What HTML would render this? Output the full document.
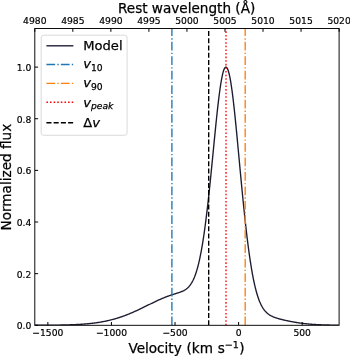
<!DOCTYPE html>
<html lang="en"><head><meta charset="utf-8"><title>Line profile</title>
<style>html,body{margin:0;padding:0;background:#fff;}svg{display:block;will-change:transform;}text{font-family:'DejaVu Sans','Liberation Sans',sans-serif;fill:#000;}.it{font-style:oblique;}.ws{word-spacing:0.5px;}</style></head><body>
<svg width="350" height="356" viewBox="0 0 350 356">
<rect x="0" y="0" width="350" height="356" fill="#fff"/>
<defs><clipPath id="ax"><rect x="34.8" y="28.5" width="304.3" height="296.8"/></clipPath></defs>
<g clip-path="url(#ax)" fill="none">
<path d="M34.80,325.26 L35.30,325.26 L35.80,325.26 L36.30,325.26 L36.80,325.25 L37.30,325.25 L37.80,325.25 L38.30,325.25 L38.80,325.25 L39.30,325.25 L39.80,325.24 L40.30,325.24 L40.80,325.24 L41.30,325.24 L41.80,325.24 L42.30,325.23 L42.80,325.23 L43.30,325.23 L43.80,325.23 L44.30,325.22 L44.80,325.22 L45.30,325.22 L45.80,325.22 L46.30,325.21 L46.80,325.21 L47.30,325.21 L47.80,325.20 L48.30,325.20 L48.80,325.19 L49.30,325.19 L49.80,325.19 L50.30,325.18 L50.80,325.18 L51.30,325.17 L51.80,325.17 L52.30,325.16 L52.80,325.16 L53.30,325.15 L53.80,325.15 L54.30,325.14 L54.80,325.14 L55.30,325.13 L55.80,325.12 L56.30,325.12 L56.80,325.11 L57.30,325.10 L57.80,325.10 L58.30,325.09 L58.80,325.08 L59.30,325.07 L59.80,325.06 L60.30,325.06 L60.80,325.05 L61.30,325.04 L61.80,325.03 L62.30,325.02 L62.80,325.01 L63.30,325.00 L63.80,324.99 L64.30,324.97 L64.80,324.96 L65.30,324.95 L65.80,324.94 L66.30,324.92 L66.80,324.91 L67.30,324.90 L67.80,324.88 L68.30,324.87 L68.80,324.85 L69.30,324.84 L69.80,324.82 L70.30,324.80 L70.80,324.79 L71.30,324.77 L71.80,324.75 L72.30,324.73 L72.80,324.71 L73.30,324.69 L73.80,324.67 L74.30,324.65 L74.80,324.62 L75.30,324.60 L75.80,324.58 L76.30,324.55 L76.80,324.53 L77.30,324.50 L77.80,324.47 L78.30,324.45 L78.80,324.42 L79.30,324.39 L79.80,324.36 L80.30,324.33 L80.80,324.30 L81.30,324.26 L81.80,324.23 L82.30,324.20 L82.80,324.16 L83.30,324.12 L83.80,324.09 L84.30,324.05 L84.80,324.01 L85.30,323.97 L85.80,323.93 L86.30,323.88 L86.80,323.84 L87.30,323.79 L87.80,323.75 L88.30,323.70 L88.80,323.65 L89.30,323.60 L89.80,323.55 L90.30,323.50 L90.80,323.44 L91.30,323.39 L91.80,323.33 L92.30,323.27 L92.80,323.22 L93.30,323.15 L93.80,323.09 L94.30,323.03 L94.80,322.96 L95.30,322.90 L95.80,322.83 L96.30,322.76 L96.80,322.69 L97.30,322.61 L97.80,322.54 L98.30,322.46 L98.80,322.39 L99.30,322.31 L99.80,322.22 L100.30,322.14 L100.80,322.06 L101.30,321.97 L101.80,321.88 L102.30,321.79 L102.80,321.70 L103.30,321.61 L103.80,321.51 L104.30,321.41 L104.80,321.31 L105.30,321.21 L105.80,321.11 L106.30,321.00 L106.80,320.89 L107.30,320.78 L107.80,320.67 L108.30,320.56 L108.80,320.44 L109.30,320.32 L109.80,320.20 L110.30,320.08 L110.80,319.96 L111.30,319.83 L111.80,319.70 L112.30,319.57 L112.80,319.44 L113.30,319.30 L113.80,319.16 L114.30,319.03 L114.80,318.88 L115.30,318.74 L115.80,318.59 L116.30,318.44 L116.80,318.29 L117.30,318.14 L117.80,317.99 L118.30,317.83 L118.80,317.67 L119.30,317.51 L119.80,317.34 L120.30,317.18 L120.80,317.01 L121.30,316.84 L121.80,316.66 L122.30,316.49 L122.80,316.31 L123.30,316.13 L123.80,315.95 L124.30,315.77 L124.80,315.58 L125.30,315.39 L125.80,315.20 L126.30,315.01 L126.80,314.81 L127.30,314.62 L127.80,314.42 L128.30,314.22 L128.80,314.02 L129.30,313.81 L129.80,313.61 L130.30,313.40 L130.80,313.19 L131.30,312.97 L131.80,312.76 L132.30,312.54 L132.80,312.33 L133.30,312.11 L133.80,311.89 L134.30,311.67 L134.80,311.44 L135.30,311.22 L135.80,310.99 L136.30,310.76 L136.80,310.53 L137.30,310.30 L137.80,310.07 L138.30,309.83 L138.80,309.60 L139.30,309.36 L139.80,309.12 L140.30,308.89 L140.80,308.65 L141.30,308.41 L141.80,308.17 L142.30,307.92 L142.80,307.68 L143.30,307.44 L143.80,307.19 L144.30,306.95 L144.80,306.71 L145.30,306.46 L145.80,306.21 L146.30,305.97 L146.80,305.72 L147.30,305.48 L147.80,305.23 L148.30,304.98 L148.80,304.74 L149.30,304.49 L149.80,304.25 L150.30,304.00 L150.80,303.76 L151.30,303.51 L151.80,303.27 L152.30,303.03 L152.80,302.78 L153.30,302.54 L153.80,302.30 L154.30,302.06 L154.80,301.82 L155.30,301.59 L155.80,301.35 L156.30,301.12 L156.80,300.88 L157.30,300.65 L157.80,300.42 L158.30,300.19 L158.80,299.96 L159.30,299.74 L159.80,299.51 L160.30,299.29 L160.80,299.07 L161.30,298.86 L161.80,298.64 L162.30,298.43 L162.80,298.22 L163.30,298.01 L163.80,297.80 L164.30,297.60 L164.80,297.40 L165.30,297.20 L165.80,297.00 L166.30,296.81 L166.80,296.62 L167.30,296.43 L167.80,296.25 L168.30,296.06 L168.80,295.88 L169.30,295.70 L169.80,295.53 L170.30,295.36 L170.80,295.19 L171.30,295.02 L171.80,294.85 L172.30,294.69 L172.80,294.53 L173.30,294.37 L173.80,294.21 L174.30,294.05 L174.80,293.89 L175.30,293.74 L175.80,293.58 L176.30,293.42 L176.80,293.27 L177.30,293.11 L177.80,292.95 L178.30,292.78 L178.80,292.62 L179.30,292.45 L179.80,292.27 L180.30,292.09 L180.80,291.90 L181.30,291.71 L181.80,291.50 L182.30,291.28 L182.80,291.06 L183.30,290.81 L183.80,290.56 L184.30,290.28 L184.80,289.99 L185.30,289.68 L185.80,289.34 L186.30,288.98 L186.80,288.60 L187.30,288.18 L187.80,287.73 L188.30,287.24 L188.80,286.72 L189.30,286.15 L189.80,285.54 L190.30,284.89 L190.80,284.18 L191.30,283.41 L191.80,282.59 L192.30,281.71 L192.80,280.76 L193.30,279.74 L193.80,278.65 L194.30,277.48 L194.80,276.23 L195.30,274.89 L195.80,273.47 L196.30,271.95 L196.80,270.33 L197.30,268.61 L197.80,266.79 L198.30,264.85 L198.80,262.81 L199.30,260.65 L199.80,258.37 L200.30,255.96 L200.80,253.43 L201.30,250.78 L201.80,247.99 L202.30,245.07 L202.80,242.02 L203.30,238.84 L203.80,235.52 L204.30,232.06 L204.80,228.48 L205.30,224.75 L205.80,220.90 L206.30,216.91 L206.80,212.80 L207.30,208.57 L207.80,204.22 L208.30,199.75 L208.80,195.18 L209.30,190.50 L209.80,185.73 L210.30,180.88 L210.80,175.96 L211.30,170.97 L211.80,165.92 L212.30,160.84 L212.80,155.73 L213.30,150.61 L213.80,145.49 L214.30,140.39 L214.80,135.33 L215.30,130.32 L215.80,125.37 L216.30,120.52 L216.80,115.77 L217.30,111.14 L217.80,106.66 L218.30,102.33 L218.80,98.19 L219.30,94.24 L219.80,90.51 L220.30,87.00 L220.80,83.74 L221.30,80.74 L221.80,78.01 L222.30,75.56 L222.80,73.41 L223.30,71.56 L223.80,70.03 L224.30,68.81 L224.80,67.91 L225.30,67.34 L225.80,67.10 L226.30,67.19 L226.80,67.60 L227.30,68.35 L227.80,69.41 L228.30,70.80 L228.80,72.51 L229.30,74.52 L229.80,76.84 L230.30,79.46 L230.80,82.36 L231.30,85.54 L231.80,88.98 L232.30,92.67 L232.80,96.60 L233.30,100.75 L233.80,105.10 L234.30,109.64 L234.80,114.34 L235.30,119.19 L235.80,124.16 L236.30,129.25 L236.80,134.42 L237.30,139.67 L237.80,144.97 L238.30,150.31 L238.80,155.67 L239.30,161.03 L239.80,166.40 L240.30,171.74 L240.80,177.05 L241.30,182.32 L241.80,187.54 L242.30,192.70 L242.80,197.78 L243.30,202.78 L243.80,207.70 L244.30,212.52 L244.80,217.24 L245.30,221.85 L245.80,226.35 L246.30,230.73 L246.80,234.99 L247.30,239.12 L247.80,243.13 L248.30,247.01 L248.80,250.76 L249.30,254.38 L249.80,257.86 L250.30,261.21 L250.80,264.43 L251.30,267.51 L251.80,270.47 L252.30,273.29 L252.80,275.99 L253.30,278.56 L253.80,281.00 L254.30,283.33 L254.80,285.54 L255.30,287.64 L255.80,289.62 L256.30,291.50 L256.80,293.27 L257.30,294.94 L257.80,296.52 L258.30,298.00 L258.80,299.40 L259.30,300.71 L259.80,301.94 L260.30,303.09 L260.80,304.18 L261.30,305.19 L261.80,306.14 L262.30,307.02 L262.80,307.85 L263.30,308.62 L263.80,309.35 L264.30,310.02 L264.80,310.65 L265.30,311.24 L265.80,311.78 L266.30,312.30 L266.80,312.77 L267.30,313.22 L267.80,313.64 L268.30,314.03 L268.80,314.40 L269.30,314.74 L269.80,315.06 L270.30,315.36 L270.80,315.65 L271.30,315.92 L271.80,316.17 L272.30,316.41 L272.80,316.64 L273.30,316.86 L273.80,317.06 L274.30,317.26 L274.80,317.45 L275.30,317.63 L275.80,317.80 L276.30,317.97 L276.80,318.13 L277.30,318.29 L277.80,318.44 L278.30,318.59 L278.80,318.73 L279.30,318.87 L279.80,319.01 L280.30,319.14 L280.80,319.27 L281.30,319.40 L281.80,319.52 L282.30,319.64 L282.80,319.77 L283.30,319.88 L283.80,320.00 L284.30,320.12 L284.80,320.23 L285.30,320.34 L285.80,320.45 L286.30,320.56 L286.80,320.67 L287.30,320.78 L287.80,320.88 L288.30,320.98 L288.80,321.09 L289.30,321.19 L289.80,321.29 L290.30,321.38 L290.80,321.48 L291.30,321.58 L291.80,321.67 L292.30,321.76 L292.80,321.85 L293.30,321.94 L293.80,322.03 L294.30,322.12 L294.80,322.21 L295.30,322.29 L295.80,322.37 L296.30,322.46 L296.80,322.54 L297.30,322.61 L297.80,322.69 L298.30,322.77 L298.80,322.84 L299.30,322.92 L299.80,322.99 L300.30,323.06 L300.80,323.13 L301.30,323.19 L301.80,323.26 L302.30,323.32 L302.80,323.39 L303.30,323.45 L303.80,323.51 L304.30,323.57 L304.80,323.62 L305.30,323.68 L305.80,323.73 L306.30,323.79 L306.80,323.84 L307.30,323.89 L307.80,323.94 L308.30,323.98 L308.80,324.03 L309.30,324.08 L309.80,324.12 L310.30,324.16 L310.80,324.20 L311.30,324.24 L311.80,324.28 L312.30,324.32 L312.80,324.36 L313.30,324.39 L313.80,324.43 L314.30,324.46 L314.80,324.49 L315.30,324.52 L315.80,324.55 L316.30,324.58 L316.80,324.61 L317.30,324.64 L317.80,324.66 L318.30,324.69 L318.80,324.71 L319.30,324.74 L319.80,324.76 L320.30,324.78 L320.80,324.80 L321.30,324.82 L321.80,324.84 L322.30,324.86 L322.80,324.88 L323.30,324.89 L323.80,324.91 L324.30,324.93 L324.80,324.94 L325.30,324.96 L325.80,324.97 L326.30,324.98 L326.80,325.00 L327.30,325.01 L327.80,325.02 L328.30,325.03 L328.80,325.04 L329.30,325.05 L329.80,325.06 L330.30,325.07 L330.80,325.08 L331.30,325.09 L331.80,325.10 L332.30,325.11 L332.80,325.12 L333.30,325.12 L333.80,325.13 L334.30,325.14 L334.80,325.14 L335.30,325.15 L335.80,325.15 L336.30,325.16 L336.80,325.16 L337.30,325.17 L337.80,325.17 L338.30,325.18 L338.80,325.18" stroke="#1c1c30" stroke-width="1.365" stroke-linejoin="round"/>
<line x1="171.9" y1="325.3" x2="171.9" y2="28.5" stroke="#1f77b4" stroke-width="1.365" stroke-dasharray="8.74,2.18,1.36,2.18"/>
<line x1="245.2" y1="325.3" x2="245.2" y2="28.5" stroke="#ff7f0e" stroke-width="1.365" stroke-dasharray="8.74,2.18,1.36,2.18"/>
<line x1="226.0" y1="325.3" x2="226.0" y2="28.5" stroke="#ff0000" stroke-width="1.365" stroke-dasharray="1.56,2.05"/>
<line x1="208.7" y1="325.3" x2="208.7" y2="28.5" stroke="#000" stroke-width="1.365" stroke-dasharray="5.05,2.18"/>
</g>
<rect x="34.8" y="28.5" width="304.3" height="296.8" fill="none" stroke="#000" stroke-width="0.95"/>
<g stroke="#000" stroke-width="1.0">
<line x1="47.87" y1="325.3" x2="47.87" y2="322.0"/>
<line x1="111.45" y1="325.3" x2="111.45" y2="322.0"/>
<line x1="175.02" y1="325.3" x2="175.02" y2="322.0"/>
<line x1="238.60" y1="325.3" x2="238.60" y2="322.0"/>
<line x1="302.18" y1="325.3" x2="302.18" y2="322.0"/>
<line x1="34.8" y1="325.30" x2="38.099999999999994" y2="325.30"/>
<line x1="34.8" y1="273.66" x2="38.099999999999994" y2="273.66"/>
<line x1="34.8" y1="222.02" x2="38.099999999999994" y2="222.02"/>
<line x1="34.8" y1="170.38" x2="38.099999999999994" y2="170.38"/>
<line x1="34.8" y1="118.74" x2="38.099999999999994" y2="118.74"/>
<line x1="34.8" y1="67.10" x2="38.099999999999994" y2="67.10"/>
<line x1="34.80" y1="28.5" x2="34.80" y2="31.8"/>
<line x1="72.84" y1="28.5" x2="72.84" y2="31.8"/>
<line x1="110.88" y1="28.5" x2="110.88" y2="31.8"/>
<line x1="148.91" y1="28.5" x2="148.91" y2="31.8"/>
<line x1="186.95" y1="28.5" x2="186.95" y2="31.8"/>
<line x1="224.99" y1="28.5" x2="224.99" y2="31.8"/>
<line x1="263.02" y1="28.5" x2="263.02" y2="31.8"/>
<line x1="301.06" y1="28.5" x2="301.06" y2="31.8"/>
<line x1="339.10" y1="28.5" x2="339.10" y2="31.8"/>
</g>
<text transform="translate(47.87,335.80)" font-size="9.2px" text-anchor="middle" stroke="#000" stroke-width="0.2">−1500</text>
<text transform="translate(111.45,335.80)" font-size="9.2px" text-anchor="middle" stroke="#000" stroke-width="0.2">−1000</text>
<text transform="translate(175.02,335.80)" font-size="9.2px" text-anchor="middle" stroke="#000" stroke-width="0.2">−500</text>
<text transform="translate(238.60,335.80)" font-size="9.2px" text-anchor="middle" stroke="#000" stroke-width="0.2">0</text>
<text transform="translate(302.18,335.80)" font-size="9.2px" text-anchor="middle" stroke="#000" stroke-width="0.2">500</text>
<text transform="translate(31.40,329.30)" font-size="9.2px" text-anchor="end" stroke="#000" stroke-width="0.2">0.0</text>
<text transform="translate(31.40,277.66)" font-size="9.2px" text-anchor="end" stroke="#000" stroke-width="0.2">0.2</text>
<text transform="translate(31.40,226.02)" font-size="9.2px" text-anchor="end" stroke="#000" stroke-width="0.2">0.4</text>
<text transform="translate(31.40,174.38)" font-size="9.2px" text-anchor="end" stroke="#000" stroke-width="0.2">0.6</text>
<text transform="translate(31.40,122.74)" font-size="9.2px" text-anchor="end" stroke="#000" stroke-width="0.2">0.8</text>
<text transform="translate(31.40,71.10)" font-size="9.2px" text-anchor="end" stroke="#000" stroke-width="0.2">1.0</text>
<text transform="translate(34.80,23.60)" font-size="9.2px" text-anchor="middle" stroke="#000" stroke-width="0.2">4980</text>
<text transform="translate(72.84,23.60)" font-size="9.2px" text-anchor="middle" stroke="#000" stroke-width="0.2">4985</text>
<text transform="translate(110.88,23.60)" font-size="9.2px" text-anchor="middle" stroke="#000" stroke-width="0.2">4990</text>
<text transform="translate(148.91,23.60)" font-size="9.2px" text-anchor="middle" stroke="#000" stroke-width="0.2">4995</text>
<text transform="translate(186.95,23.60)" font-size="9.2px" text-anchor="middle" stroke="#000" stroke-width="0.2">5000</text>
<text transform="translate(224.99,23.60)" font-size="9.2px" text-anchor="middle" stroke="#000" stroke-width="0.2">5005</text>
<text transform="translate(263.02,23.60)" font-size="9.2px" text-anchor="middle" stroke="#000" stroke-width="0.2">5010</text>
<text transform="translate(301.06,23.60)" font-size="9.2px" text-anchor="middle" stroke="#000" stroke-width="0.2">5015</text>
<text transform="translate(339.10,23.60)" font-size="9.2px" text-anchor="middle" stroke="#000" stroke-width="0.2">5020</text>
<text transform="translate(186.60,13.20)" font-size="13.6px" text-anchor="middle" stroke="#000" stroke-width="0.25">Rest wavelength (Å)</text>
<text class="ws" transform="translate(186.50,352.60)" font-size="13.6px" text-anchor="middle" stroke="#000" stroke-width="0.25">Velocity (km s<tspan font-size="9.52px" dy="-4.6">−1</tspan><tspan dy="4.6" dx="0.4">)</tspan></text>
<text transform="translate(10.50,177.15) rotate(-90)" font-size="13.6px" text-anchor="middle" stroke="#000" stroke-width="0.25">Normalized flux</text>
<rect x="41.2" y="35.2" width="85.89999999999999" height="100.10000000000001" rx="2.6" ry="2.6" fill="#fff" fill-opacity="0.8" stroke="#cccccc" stroke-opacity="0.8" stroke-width="0.9"/>
<line x1="46.4" y1="45.8" x2="73.4" y2="45.8" stroke="#1c1c30" stroke-width="1.365"/>
<line x1="46.4" y1="64.5" x2="73.4" y2="64.5" stroke="#1f77b4" stroke-width="1.365" stroke-dasharray="8.74,2.18,1.36,2.18"/>
<line x1="46.4" y1="83.4" x2="73.4" y2="83.4" stroke="#ff7f0e" stroke-width="1.365" stroke-dasharray="8.74,2.18,1.36,2.18"/>
<line x1="46.4" y1="102.3" x2="73.4" y2="102.3" stroke="#ff0000" stroke-width="1.365" stroke-dasharray="1.56,2.05"/>
<line x1="46.4" y1="122.8" x2="73.4" y2="122.8" stroke="#000" stroke-width="1.365" stroke-dasharray="5.05,2.18"/>
<text transform="translate(83.20,49.90)" font-size="13.1px" text-anchor="start" stroke="#000" stroke-width="0.25">Model</text>
<text transform="translate(83.20,68.40)" font-size="13.1px" text-anchor="start" stroke="#000" stroke-width="0.25"><tspan class="it">v</tspan><tspan font-size="9.17px" dy="2.2">10</tspan></text>
<text transform="translate(83.20,87.30)" font-size="13.1px" text-anchor="start" stroke="#000" stroke-width="0.25"><tspan class="it">v</tspan><tspan font-size="9.17px" dy="2.2">90</tspan></text>
<text transform="translate(83.20,106.55)" font-size="13.1px" text-anchor="start" stroke="#000" stroke-width="0.25"><tspan class="it">v</tspan><tspan class="it" font-size="9.17px" dy="2.2">peak</tspan></text>
<text transform="translate(83.20,127.00)" font-size="13.1px" text-anchor="start" stroke="#000" stroke-width="0.25">Δ<tspan class="it">v</tspan></text>
</svg></body></html>
